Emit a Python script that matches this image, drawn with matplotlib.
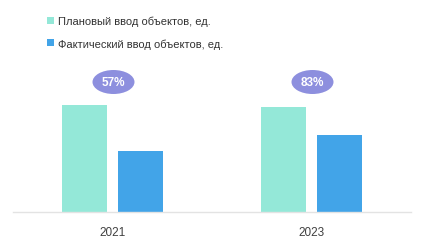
import matplotlib.pyplot as plt
from matplotlib.patches import Ellipse

plt.rcParams['font.family'] = ['Liberation Sans', 'DejaVu Sans']

years = ["2021", "2023"]
plan = [107, 105]      # Плановый ввод объектов, ед.
fact = [61, 77]        # Фактический ввод объектов, ед.
pct_labels = ["57%", "83%"]

plan_color = "#94e8d8"
fact_color = "#42a4e8"
oval_color = "#8d8fde"

fig = plt.figure(figsize=(4.23, 2.51), dpi=100)
ax = fig.add_axes([13 / 423, 38 / 251, 398 / 423, 213 / 251])

x = list(range(len(years)))
w = 0.226
off = 0.143
b1 = ax.bar([i - off for i in x], plan, width=w, color=plan_color,
            label="Плановый ввод объектов, ед.")
b2 = ax.bar([i + off for i in x], fact, width=w, color=fact_color,
            label="Фактический ввод объектов, ед.")

for i, lab in zip(x, pct_labels):
    ax.add_patch(Ellipse((i + 0.005, 130), 0.211, 24, color=oval_color, lw=0))
    ax.text(i + 0.005, 129.5, lab, ha="center", va="center", color="white",
            fontsize=8.5, fontweight="bold")

ax.set_xlim(-0.5, 1.5)
ax.set_ylim(0, 213)
ax.set_xticks(x)
ax.set_xticklabels(years, fontsize=8.5, color="#404040")
ax.tick_params(axis="x", length=0, pad=10)
ax.set_yticks([])
for s in ["top", "left", "right"]:
    ax.spines[s].set_visible(False)
ax.spines["bottom"].set_color("#e3e3e3")
ax.spines["bottom"].set_linewidth(1)

fig.legend(handles=[b1, b2], loc="upper left",
           bbox_to_anchor=(47 / 423, 1 - 17 / 251), frameon=False,
           fontsize=8, labelspacing=1.05, handlelength=0.6,
           handleheight=0.6, handletextpad=0.35, borderpad=0,
           borderaxespad=0, labelcolor="#333333")

fig.savefig("out.png", dpi=100)
